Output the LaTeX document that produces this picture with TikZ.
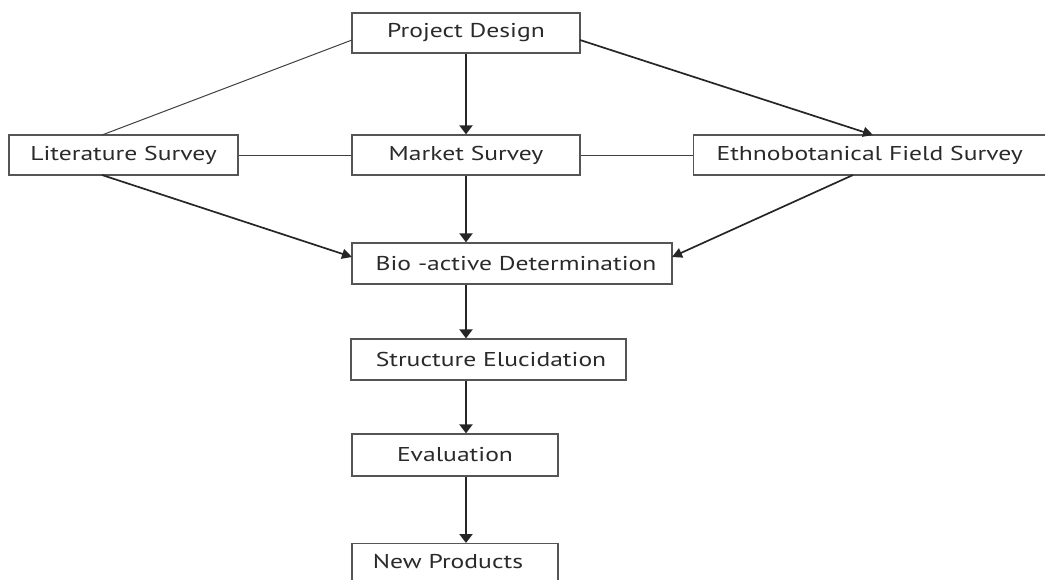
\documentclass[tikz,border=0pt]{standalone}
\usepackage{fontspec}
\setmainfont[FakeStretch=1.28]{PT Sans}
\usetikzlibrary{arrows.meta}
\definecolor{txt}{HTML}{2A2A2A}
\definecolor{boxline}{HTML}{555555}
\begin{document}
\begin{tikzpicture}[x=1pt,y=-1pt,
  box/.style={draw=boxline,line width=1.3pt,fill=white,text=txt,inner sep=0pt,font=\fontsize{20}{24}\selectfont},
  link/.style={draw=black!75,line width=1pt},
  flow/.style={draw=black!85,line width=2.2pt,-{Triangle[length=9pt,width=13pt]}},
  slant/.style={draw=black!85,line width=1.7pt,-{Triangle[length=10pt,width=10pt]}}]
\useasboundingbox (0,0) rectangle (1045,579);
\node[box,minimum width=228pt,minimum height=40pt] (pd) at (466,33) {Project Design};
\node[box,minimum width=229pt,minimum height=40pt] (ls) at (123.5,155) {Literature Survey};
\node[box,minimum width=228pt,minimum height=40pt] (ms) at (466,155) {Market Survey};
\node[box,minimum width=355pt,minimum height=40pt,anchor=west] (eb) at (693,155) {\hspace*{-3pt}Ethnobotanical Field Survey};
\node[box,minimum width=320pt,minimum height=41pt] (ba) at (512,263.5) {\hspace*{8pt}Bio -active Determination};
\node[box,minimum width=275pt,minimum height=41pt] (se) at (488.5,359.5) {\hspace*{5pt}Structure Elucidation};
\node[box,minimum width=206pt,minimum height=42pt] (ev) at (455,455) {Evaluation};
\node[box,minimum width=206pt,minimum height=60pt,anchor=north] (np) at (455,543) {};
\node[text=txt,font=\fontsize{20}{24}\selectfont] (npt) at (448,562) {New Products};
\coordinate (pdL) at (352,40);
\coordinate (pdR) at (580,40);
\coordinate (lsT) at (102,135);
\coordinate (ebT) at (873,135);
\coordinate (lsB) at (102,175);
\coordinate (ebB) at (853,175);
\coordinate (baL) at (352,257);
\coordinate (baR) at (672,257);
\draw[link] (pdL) -- (lsT);
\draw[link] (ls.east) -- (ms.west);
\draw[link] (ms.east) -- (eb.west);
\draw[slant] (pdR) -- (ebT);
\draw[slant] (lsB) -- (baL);
\draw[slant] (ebB) -- (baR);
\draw[flow] (pd.south) -- (ms.north);
\draw[flow] (ms.south) -- (ba.north -| ms.south);
\draw[flow] (ba.south -| ms.south) -- (se.north -| ms.south);
\draw[flow] (se.south -| ms.south) -- (ev.north -| ms.south);
\draw[flow] (ev.south -| ms.south) -- (np.north -| ms.south);
\end{tikzpicture}
\end{document}
